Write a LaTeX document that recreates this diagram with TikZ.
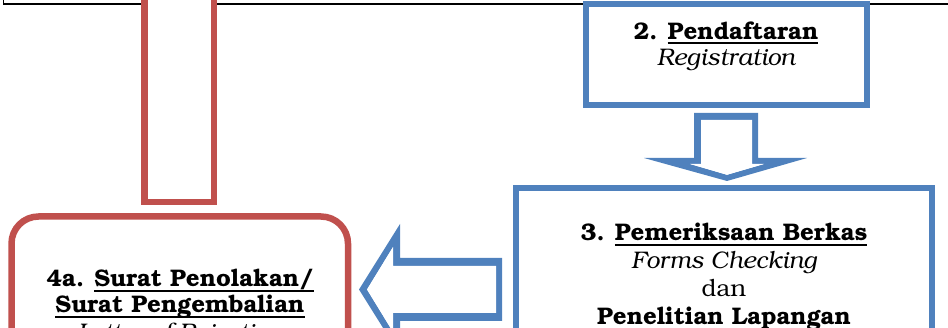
\documentclass[tikz,border=0pt]{standalone}
\usepackage[T1]{fontenc}
\usepackage{bookman}
\definecolor{flowblue}{RGB}{79,129,189}
\definecolor{flowred}{RGB}{192,80,77}
% underline at a fixed distance below the baseline
\newcommand\ulword[1]{\setbox0\hbox{#1}\rlap{\rule[-4.7pt]{\wd0}{2pt}}\box0}
\tikzset{
  bluebox/.style={draw=flowblue, line width=6pt, fill=white},
  redbox/.style={draw=flowred, line width=6.5pt, fill=white},
  txt/.style={inner sep=0pt, anchor=base, font=\fontsize{24}{28}\selectfont},
}
\begin{document}
\begin{tikzpicture}[x=1pt,y=-1pt]
\useasboundingbox (0,0) rectangle (948,328);
\begin{scope}
\clip (0,0) rectangle (948,328);

% lower edge of the box above
\draw[line width=1.5pt] (3.5,-20) -- (3.5,4) -- (970,4);

% red shaft going up from box 4a
\draw[redbox] (144.5,-40) rectangle (214,202);
% box 4a
\draw[redbox, rounded corners=27pt] (11.5,216.5) rectangle (348,420);

% box 2
\draw[bluebox] (586,4.5) rectangle (867,105.5);
% block arrow 2 -> 3
\fill[flowblue, even odd rule]
  (694,113) -- (758,113) -- (758,158) -- (807,158) -- (727,181) -- (644,158) -- (694,158) -- cycle
  (701,120) -- (752,120) -- (752,164) -- (764,164) -- (727,174.8) -- (690,164) -- (701,164) -- cycle;
\fill[white]
  (701,120) -- (752,120) -- (752,164) -- (764,164) -- (727,174.8) -- (690,164) -- (701,164) -- cycle;

% box 3
\draw[bluebox] (516,188.5) rectangle (932,420);

% block arrow 3 -> 4a
\fill[flowblue, even odd rule]
  (359,289.5) -- (400,224) -- (400,258) -- (502,258) -- (502,321) -- (400,321) -- (400,355) -- cycle
  (367,289.5) -- (393,247) -- (393,266) -- (496,266) -- (496,313) -- (393,313) -- (393,332) -- cycle;
\fill[white]
  (367,289.5) -- (393,247) -- (393,266) -- (496,266) -- (496,313) -- (393,313) -- (393,332) -- cycle;

% texts of box 2
\node[txt] (t2a) at (726,39.5) {\bfseries 2. \ulword{Pendaftaran}};
\node[txt] (t2b) at (726,66) {\itshape Registration};

% texts of box 3
\node[txt] (t3a) at (724,241) {\bfseries 3. \ulword{Pemeriksaan Berkas}};
\node[txt] (t3b) at (724,268.5) {\itshape Forms Checking};
\node[txt] (t3c) at (724,297) {dan};
\node[txt] (t3d) at (724,325) {\bfseries Penelitian Lapangan};

% texts of box 4a
\node[txt] (t4a) at (180,287) {\bfseries 4a. \ulword{Surat Penolakan/}};
\node[txt] (t4b) at (180,313) {\bfseries \ulword{Surat Pengembalian}};
\node[txt] (t4c) at (180,341) {\itshape Letter of Rejection};
\end{scope}
\end{tikzpicture}
\end{document}
